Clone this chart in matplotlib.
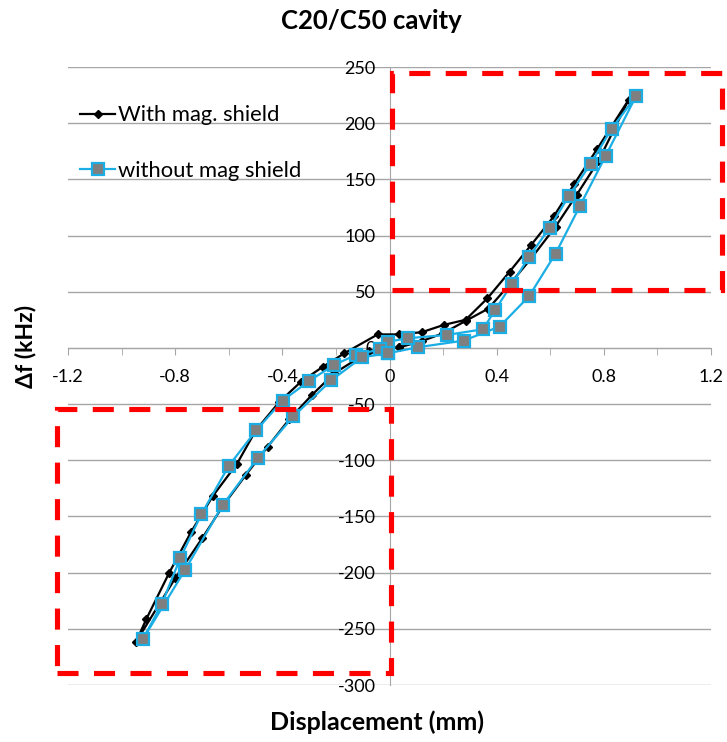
import matplotlib
matplotlib.use("Agg")
import matplotlib.pyplot as plt
from matplotlib.patches import Rectangle

plt.rcParams['font.family'] = ['Lato', 'DejaVu Sans']

# With mag. shield
x_shield = [0.037, 0.12, 0.20, 0.284, 0.369, 0.45, 0.53, 0.62, 0.698, 0.779, 0.893,
            0.775, 0.69, 0.613, 0.53, 0.449, 0.365, 0.284, 0.203, 0.121, 0.037, -0.044,
            -0.168, -0.25, -0.33, -0.411, -0.498, -0.569, -0.66, -0.741, -0.822, -0.907, -0.947,
            -0.80, -0.698, -0.62, -0.536, -0.455, -0.374, -0.29, -0.206, -0.075, 0.037]
y_shield = [0.5, 6, 13, 24, 35, 57, 80, 108, 136, 166, 221,
            177, 146, 117, 92, 68, 44, 25, 20.5, 14, 12, 12,
            -4.7, -17, -30, -48, -73, -103, -132, -164, -200, -241, -262,
            -205, -169, -140, -113, -88, -63.5, -42, -22.5, -3, 0.5]

# without mag shield
x_noshield = [-0.004, 0.106, 0.277, 0.411, 0.521, 0.62, 0.71, 0.807, 0.92,
              0.829, 0.751, 0.669, 0.598, 0.521, 0.457, 0.395, 0.349, 0.216, 0.068, -0.004,
              -0.034, -0.125, -0.206, -0.30, -0.399, -0.498, -0.60, -0.702, -0.781, -0.85, -0.92,
              -0.764, -0.623, -0.492, -0.359, -0.218, -0.102, -0.004]
y_noshield = [-4.7, 0.6, 6.5, 19, 46, 84, 126, 171, 224,
              195, 164, 135, 107, 81, 57, 34, 16.6, 11.6, 8.6, 5.6,
              -1.2, -6.2, -15, -29.4, -46.9, -73.5, -105, -148, -187, -228, -259,
              -198, -140, -98, -61, -29, -8.3, -4.7]

labels = ["With mag. shield", "without mag shield"]
title = "C20/C50 cavity"
xlabel = "Displacement (mm)"
ylabel = "\u0394f (kHz)"
xticks_major = [-1.2, -0.8, -0.4, 0, 0.4, 0.8, 1.2]
xticklabels = ["-1.2", "-0.8", "-0.4", "0", "0.4", "0.8", "1.2"]
yticks = [-300, -250, -200, -150, -100, -50, 0, 50, 100, 150, 200, 250]

fig = plt.figure(figsize=(7.27, 7.42), dpi=100)
ax = fig.add_axes([68/727, 1-685/742, (711-68)/727, (685-67)/742])
ax.set_xlim(-1.2, 1.2)
ax.set_ylim(-300, 250)

for yv in yticks:
    ax.axhline(yv, color='#a6a6a6', lw=1.0, zorder=0)

ax.spines['left'].set_position(('data', 0))
ax.spines['bottom'].set_position(('data', 0))
ax.spines['top'].set_visible(False)
ax.spines['right'].set_visible(False)
ax.spines['left'].set_color('#a6a6a6')
ax.spines['bottom'].set_color('#a6a6a6')
ax.spines['left'].set_zorder(0.5)
ax.spines['bottom'].set_zorder(0.5)

ax.set_xticks(xticks_major)
ax.set_xticklabels(xticklabels)
ax.set_xticks([-1.0, -0.6, -0.2, 0.2, 0.6, 1.0], minor=True)
ax.tick_params(axis='x', which='both', direction='out', length=5, color='#a6a6a6',
               labelsize=13, pad=10)
ax.set_yticks(yticks)
ax.set_yticklabels([str(v) for v in yticks])
ax.tick_params(axis='y', length=0, labelsize=13, pad=10)

ax.plot(x_shield, y_shield, color='black', lw=1.6, marker='D', markersize=4.5,
        markerfacecolor='black', markeredgecolor='black', label=labels[0], zorder=3)
ax.plot(x_noshield, y_noshield, color='#1aaee5', lw=1.6, marker='s', markersize=8,
        markerfacecolor='#7f7f7f', markeredgecolor='#1aaee5', markeredgewidth=1.6,
        label=labels[1], zorder=4)

# red dashed highlight boxes
red_kw = dict(fill=False, edgecolor='#ff0000', lw=3.7, linestyle=(0, (4.1, 3.0)),
              clip_on=False, zorder=5)
ax.add_patch(Rectangle((0.008, 51.6), 1.232, 193.0, **red_kw))
ax.add_patch(Rectangle((-1.24, -289), 1.246, 234.5, **red_kw))

leg = ax.legend(loc='upper left', bbox_to_anchor=(-0.012, 0.970), frameon=False,
                fontsize=15.8, handlelength=1.6, handletextpad=0.15, labelspacing=1.62)

fig.text(371/727, 1-21/742, title, ha='center', va='center', fontsize=18.5, fontweight='bold')
fig.text(377/727, 1-722/742, xlabel, ha='center', va='center', fontsize=18, fontweight='bold')
fig.text(26/727, 1-346/742, ylabel, ha='center', va='center', rotation=90,
         fontsize=16.5, fontweight='bold')

fig.savefig("out.png", dpi=100)
